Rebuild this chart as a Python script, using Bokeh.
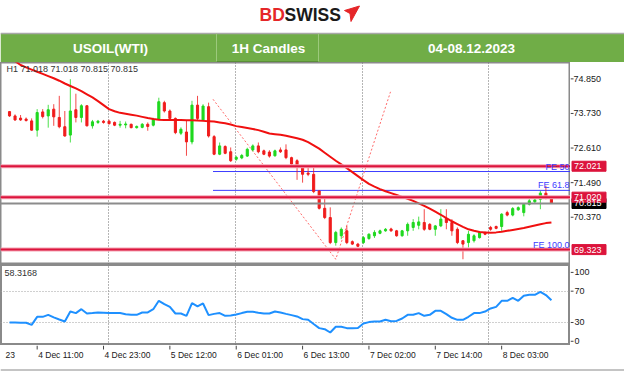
from bokeh.plotting import figure
from bokeh.models import Range1d, FixedTicker, Span, ColumnDataSource, Label
from bokeh.layouts import column, row
from bokeh.embed import file_html
from bokeh.resources import INLINE
from bokeh.core.properties import value

# ---------------- data ----------------
opens = [73.79, 73.65, 73.58, 73.55, 73.49, 73.19, 73.78, 73.65, 73.87, 73.60,
         73.30, 73.03, 73.85, 73.60, 73.98, 73.33, 73.44, 73.48, 73.48, 73.44,
         73.35, 73.36, 73.38, 73.27, 73.28, 73.38, 73.35, 73.54, 74.08, 73.81,
         73.57, 73.09, 73.13, 72.81, 74.00, 73.52, 73.95, 72.98, 72.41, 72.66,
         72.49, 72.25, 72.29, 72.35, 72.55, 72.68, 72.52, 72.48, 72.36, 72.55,
         72.55, 72.30, 72.20, 72.03, 71.80, 71.76, 71.22, 70.66, 70.36, 69.55,
         69.77, 69.93, 69.58, 69.50, 69.55, 69.68, 69.77, 69.85, 69.93, 69.99,
         69.93, 69.77, 69.93, 70.04, 70.11, 70.20, 70.14, 69.98, 70.09, 70.33,
         70.20, 69.98, 69.61, 69.55, 69.61, 69.71, 69.88, 70.04, 70.07, 70.07,
         70.52, 70.44, 70.61, 70.52, 70.79, 70.87, 70.95, 71.15, 71.018]
highs = [73.81, 73.70, 73.68, 73.60, 73.57, 73.87, 73.87, 74.01, 74.03, 74.30,
         73.81, 74.84, 74.37, 74.03, 74.00, 73.52, 73.52, 73.52, 73.53, 73.47,
         73.49, 73.47, 73.40, 73.34, 73.42, 73.44, 73.59, 74.24, 74.14, 73.86,
         73.60, 73.28, 73.49, 74.14, 74.30, 74.03, 74.08, 73.03, 72.79, 72.70,
         72.63, 72.36, 72.42, 72.62, 72.73, 72.79, 72.56, 72.54, 72.56, 72.63,
         72.73, 72.33, 72.25, 72.05, 71.98, 71.98, 71.25, 70.98, 70.69, 69.93,
         70.04, 70.09, 69.62, 69.54, 69.76, 69.85, 69.95, 69.97, 70.02, 70.03,
         69.96, 69.96, 70.20, 70.31, 70.39, 70.63, 70.18, 70.12, 70.63, 70.63,
         70.31, 70.04, 69.61, 69.93, 69.82, 69.92, 69.90, 70.09, 70.10, 70.50,
         70.58, 70.70, 70.72, 70.83, 71.00, 71.00, 71.22, 71.39, 71.018]
lows = [73.62, 73.49, 73.49, 73.47, 73.17, 72.98, 73.57, 73.27, 73.33, 73.25,
        72.98, 72.79, 73.44, 73.44, 73.31, 73.24, 73.39, 73.40, 73.37, 73.32,
        73.27, 73.25, 73.25, 73.24, 73.25, 73.17, 73.31, 73.52, 73.76, 73.54,
        73.06, 73.03, 72.36, 72.73, 73.49, 73.49, 72.95, 72.38, 72.38, 72.41,
        72.16, 72.20, 72.25, 72.32, 72.50, 72.44, 72.38, 72.30, 72.33, 72.45,
        72.25, 72.03, 71.58, 71.49, 71.70, 71.15, 70.62, 70.31, 69.50, 69.45,
        69.66, 69.50, 69.47, 69.40, 69.50, 69.64, 69.70, 69.82, 69.90, 69.90,
        69.74, 69.74, 69.77, 69.93, 69.98, 69.93, 69.95, 69.77, 70.05, 69.98,
        69.77, 69.50, 69.01, 69.39, 69.55, 69.68, 69.79, 69.93, 69.98, 69.93,
        70.40, 70.40, 70.58, 70.40, 70.75, 70.83, 70.63, 70.95, 70.815]
closes = [73.65, 73.52, 73.52, 73.50, 73.19, 73.76, 73.63, 73.85, 73.62, 73.30,
          73.00, 73.81, 73.60, 73.98, 73.33, 73.46, 73.48, 73.44, 73.40, 73.35,
          73.38, 73.39, 73.27, 73.31, 73.38, 73.31, 73.54, 74.11, 73.81, 73.57,
          73.11, 73.22, 72.81, 74.00, 73.57, 73.97, 73.00, 72.41, 72.68, 72.44,
          72.20, 72.31, 72.37, 72.57, 72.68, 72.49, 72.41, 72.35, 72.52, 72.49,
          72.30, 72.09, 72.03, 71.76, 71.76, 71.20, 70.66, 70.36, 69.55, 69.88,
          69.98, 69.55, 69.50, 69.43, 69.71, 69.82, 69.88, 69.93, 69.98, 69.93,
          69.77, 69.93, 70.14, 70.20, 70.22, 69.98, 69.98, 70.09, 70.31, 70.20,
          69.93, 69.55, 69.50, 69.82, 69.77, 69.88, 69.82, 69.98, 70.01, 70.47,
          70.44, 70.65, 70.68, 70.79, 70.90, 70.93, 71.15, 71.02, 70.815]
ma = [75.55, 75.42, 75.30, 75.22, 75.15, 75.08, 75.01, 74.94, 74.87, 74.79,
      74.70, 74.62, 74.54, 74.45, 74.35, 74.25, 74.13, 74.00, 73.87, 73.80,
      73.75, 73.72, 73.69, 73.66, 73.62, 73.58, 73.55, 73.53, 73.52, 73.52,
      73.52, 73.52, 73.51, 73.51, 73.50, 73.49, 73.48, 73.47, 73.44, 73.41,
      73.37, 73.32, 73.29, 73.26, 73.23, 73.19, 73.14, 73.08, 73.06, 73.04,
      73.01, 72.97, 72.93, 72.88, 72.80, 72.70, 72.59, 72.46, 72.33, 72.20,
      72.08, 71.96, 71.83, 71.70, 71.57, 71.45, 71.36, 71.28, 71.21, 71.15,
      71.09, 71.03, 70.97, 70.90, 70.82, 70.74, 70.65, 70.55, 70.45, 70.34,
      70.24, 70.15, 70.06, 69.98, 69.93, 69.89, 69.88, 69.87, 69.88, 69.90,
      69.93, 69.96, 69.99, 70.02, 70.06, 70.10, 70.14, 70.18, 70.20]
rsi = [30.0, 30.0, 29.8, 29.6, 27.0, 37.2, 37.2, 39.8, 36.5, 33.8,
       31.3, 44.0, 42.0, 47.0, 41.5, 42.0, 42.8, 42.4, 42.0, 42.0,
       42.0, 40.5, 39.8, 39.8, 42.8, 42.8, 47.0, 57.7, 53.4, 50.0,
       41.5, 41.5, 38.5, 54.7, 50.5, 54.3, 39.4, 41.0, 42.0, 38.5,
       39.0, 40.2, 42.0, 43.6, 43.6, 42.5, 41.5, 41.5, 44.0, 42.8,
       41.0, 39.4, 37.7, 34.3, 33.4, 28.0, 22.8, 21.5, 17.2, 24.5,
       24.5, 22.8, 22.8, 23.0, 28.7, 30.5, 31.3, 31.3, 33.4, 31.5,
       32.0, 35.1, 39.8, 39.8, 42.0, 38.5, 39.8, 44.9, 44.9, 40.7,
       36.0, 33.4, 33.4, 37.3, 42.0, 42.0, 44.0, 47.9, 50.0, 57.7,
       57.7, 61.5, 57.7, 64.1, 65.4, 65.4, 69.2, 65.0, 58.3]

tick_idx = [5, 17, 29, 41, 53, 65, 77, 89]
tick_labels = ["4 Dec 11:00", "4 Dec 23:00", "5 Dec 12:00", "6 Dec 01:00",
               "6 Dec 13:00", "7 Dec 02:00", "7 Dec 14:00", "8 Dec 03:00"]
first_label_tail = "23"
price_ticks = [70.370, 71.490, 72.610, 73.730, 74.850]
levels = [72.021, 71.020, 69.323]
last_price = 70.815
fe_levels = [71.85, 71.24, 69.32]
fe_names = ["FE 50", "FE 61.8", "FE 100.0"]
fe_x = [36.8, 59.0, 68.9]
fe_y = [74.19, 69.01, 74.43]
rsi_ticks = [6, 30, 70, 94]
rsi_tick_names = ["0", "30", "70", "100"]
rsi_levels = [30, 70]
rsi_value_text = "58.3168"
grid_x = [17.9, 40.9, 63.8, 86.6]
top_text = "H1  71.018 71.018 70.815 70.815"
header_texts = ["USOIL(WTI)", "1H Candles", "04-08.12.2023"]

# ---------------- styles ----------------
FONT = value("Liberation Sans")
UP = "#1fd81f"
DN = "#f01c1c"
LEVEL = "#dc143c"
BLUE = "#3c3cff"
GRID = "#6a6a6a"
AX = "#8a8a8a"

n = len(opens)
idx = list(range(n))
x_start, x_end = -1.63, 101.45
x_range = Range1d(x_start, x_end)
main_y = Range1d(68.84, 75.38)
rsi_y = Range1d(0.6, 104.1)


def bare(width, height, xr, yr):
    f = figure(width=width, height=height, x_range=xr, y_range=yr,
               toolbar_location=None, output_backend="svg", min_border=0,
               x_axis_location=None, y_axis_location=None)
    f.grid.visible = False
    f.outline_line_color = None
    f.background_fill_color = "white"
    f.border_fill_color = "white"
    return f


# ---------------- header ----------------
h = bare(624, 62, Range1d(0, 624), Range1d(62, 0))
h.quad(left=0, right=624, top=33, bottom=61.5, fill_color="#70ad47", line_color=None)
h.segment(x0=[0], x1=[624], y0=[33], y1=[33], line_color="#a8a8a8", line_width=1.5)
h.segment(x0=[216, 318], x1=[216, 318], y0=[33, 33], y1=[61.5, 61.5],
          line_color="#9cc97c", line_width=1)
h.segment(x0=[216], x1=[318], y0=[61], y1=[61], line_color="#5a8f37", line_width=1)
h.text(x=[110, 268, 471], y=[47.5, 47.5, 47.5], text=header_texts,
       text_align="center", text_baseline="middle", text_color="white",
       text_font=FONT, text_font_style="bold", text_font_size="13.5px")
h.text(x=[259], y=[14.5], text=["BD"], text_align="left", text_baseline="middle",
       text_color="#e52629", text_font=FONT, text_font_style="bold", text_font_size="17.5px")
h.text(x=[284], y=[14.5], text=["SWISS"], text_align="left", text_baseline="middle",
       text_color="#1a1a1a", text_font=FONT, text_font_style="bold", text_font_size="17.5px")
h.patch(x=[344, 359, 350.5, 349.5], y=[10, 5.5, 21, 13], fill_color="#e52629", line_color="#e52629")

# ---------------- main chart ----------------
p = bare(570, 202, x_range, main_y)
p.outline_line_color = AX
p.outline_line_width = 2
p.xgrid.visible = True
p.xgrid.ticker = FixedTicker(ticks=grid_x)
p.xgrid.grid_line_color = GRID
p.xgrid.grid_line_dash = "1 2"

for lv in levels:
    p.add_layout(Span(location=lv, dimension="width", line_color="#f5a3b3", line_width=4))
    p.add_layout(Span(location=lv, dimension="width", line_color=LEVEL, line_width=2))
p.add_layout(Span(location=last_price, dimension="width", line_color="#8c8c8c", line_width=2))

p.ray(x=[fe_x[0]] * len(fe_levels), y=fe_levels, length=0, angle=0,
      line_color=BLUE, line_width=1)
p.line(fe_x, fe_y, line_color="#ff6a6a", line_width=1, line_dash="2 2")

up_c = [c >= o for o, c in zip(opens, closes)]
src = ColumnDataSource(dict(
    x=idx, o=opens, h=highs, l=lows, c=closes,
    top=[max(o, c) for o, c in zip(opens, closes)],
    bot=[min(o, c) for o, c in zip(opens, closes)],
    col=[UP if u else DN for u in up_c],
))
p.segment(x0="x", x1="x", y0="l", y1="h", source=src, line_color="col", line_width=1, line_alpha=0.8)
p.vbar(x="x", width=0.38, top="top", bottom="bot", source=src,
       fill_color="col", line_color="col", line_width=1)

p.line(idx, ma, line_color="#f01010", line_width=2)

p.text(x=[x_start], y=[main_y.end], text=[top_text], x_offset=6, y_offset=6.5,
       text_baseline="alphabetic", text_align="left", text_color="#333333",
       text_font=FONT, text_font_size="9px")
for name, lv in zip(fe_names, fe_levels):
    p.add_layout(Label(x=x_end, y=lv, x_units="data", y_units="data", text=name,
                       x_offset=-1, text_align="right", text_baseline="bottom",
                       text_color=BLUE, text_font="Liberation Sans", text_font_size="9px"))

# price axis strip for the main chart
pa = bare(54, 202, Range1d(0, 54), main_y)
pa.segment(x0=[0] * len(price_ticks), x1=[3] * len(price_ticks), y0=price_ticks, y1=price_ticks,
           line_color="#444444", line_width=1)
pa.text(x=[3] * len(price_ticks), y=price_ticks, text=[f"{t:.3f}" for t in price_ticks],
        text_align="left", text_baseline="middle", text_color="#202020",
        text_font=FONT, text_font_size="9px")
tag_vals = [last_price] + levels
tag_cols = ["#000000"] + [LEVEL] * len(levels)
pa.rect(x=[18.5] * len(tag_vals), y=tag_vals, width=34, height=10, height_units="screen",
        fill_color=tag_cols, line_color=tag_cols)
pa.text(x=[3.5] * len(tag_vals), y=tag_vals, text=[f"{v:.3f}" for v in tag_vals],
        text_align="left", text_baseline="middle", text_color="white",
        text_font=FONT, text_font_size="9px")

# ---------------- RSI ----------------
r = bare(570, 81, x_range, rsi_y)
r.outline_line_color = AX
r.outline_line_width = 3
r.xgrid.visible = True
r.ygrid.visible = True
r.xgrid.ticker = FixedTicker(ticks=grid_x)
r.xgrid.grid_line_color = GRID
r.xgrid.grid_line_dash = "1 2"
r.ygrid.ticker = FixedTicker(ticks=rsi_levels)
r.ygrid.grid_line_color = "#a0a0a0"
r.ygrid.grid_line_dash = "1 2"
r.line(idx, rsi, line_color="#1e90ff", line_width=2)
r.text(x=[x_start], y=[rsi_y.end], text=[rsi_value_text], x_offset=4, y_offset=8,
       text_baseline="middle", text_align="left", text_color="#333333",
       text_font=FONT, text_font_size="9px")

ra = bare(54, 81, Range1d(0, 54), rsi_y)
ra.segment(x0=[0] * len(rsi_ticks), x1=[3] * len(rsi_ticks), y0=rsi_ticks, y1=rsi_ticks,
           line_color="#444444", line_width=1)
ra.text(x=[4] * len(rsi_ticks), y=rsi_ticks, text=rsi_tick_names,
        text_align="left", text_baseline="middle", text_color="#202020",
        text_font=FONT, text_font_size="9px")

# ---------------- time axis strip ----------------
s_end = x_end + 54 * (x_end - x_start) / 570
s = bare(624, 31, Range1d(x_start, s_end), Range1d(31, 0))
s.segment(x0=tick_idx, x1=tick_idx, y0=[0] * len(tick_idx), y1=[4] * len(tick_idx),
          line_color="#444444", line_width=1)
s.text(x=tick_idx, y=[9.5] * len(tick_idx), text=tick_labels, x_offset=1,
       text_align="left", text_baseline="middle", text_color="#202020",
       text_font=FONT, text_font_size="8.5px")
s.text(x=[x_start], y=[9.5], text=[first_label_tail], x_offset=5,
       text_align="left", text_baseline="middle", text_color="#202020",
       text_font=FONT, text_font_size="8.5px")
s.add_layout(Span(location=24.5, dimension="width", line_color="#c4c4c4", line_width=2))

layout = column(h, row(p, pa, spacing=0), row(r, ra, spacing=0), s, spacing=0)
open("out.html", "w").write(file_html(layout, INLINE))
